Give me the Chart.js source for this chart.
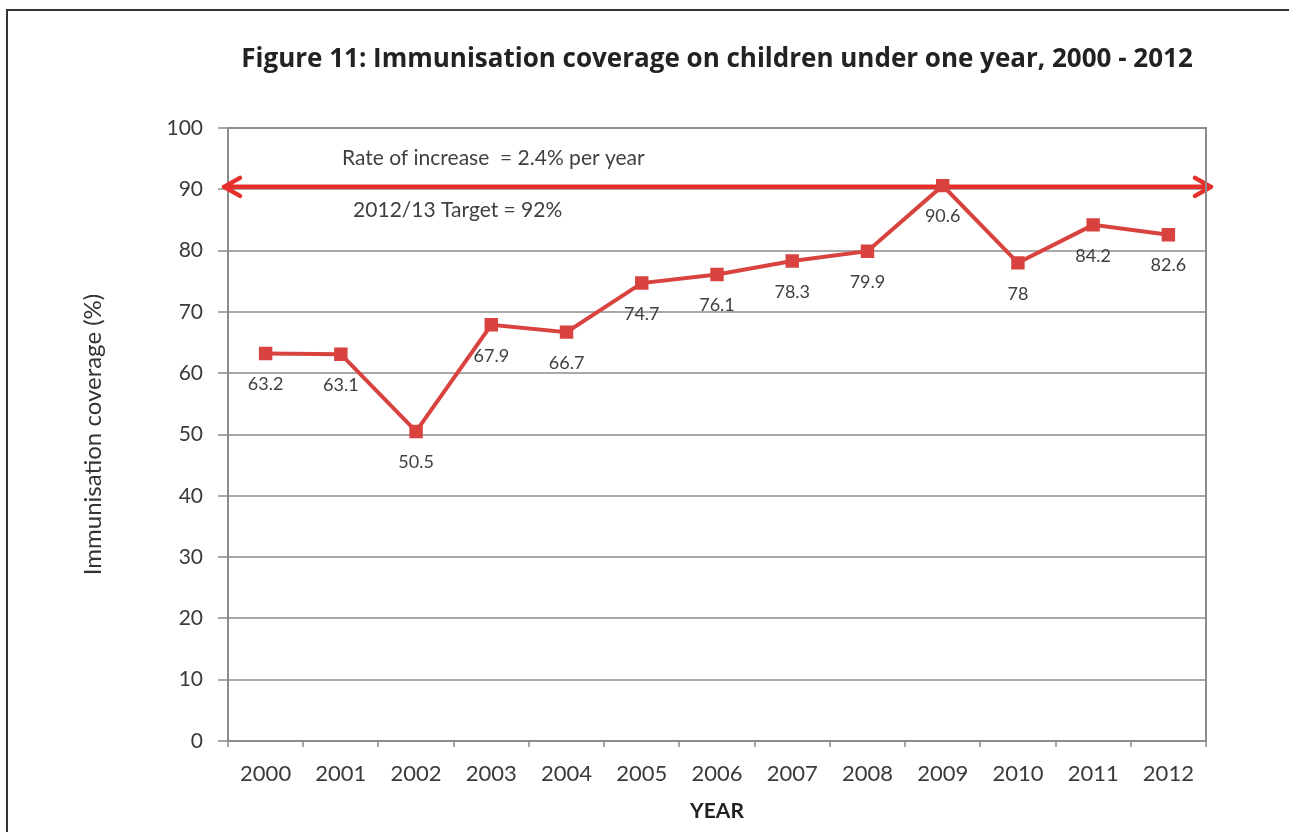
<!DOCTYPE html>
<html>
<head>
<meta charset="utf-8">
<script src="https://cdn.jsdelivr.net/npm/chart.js@4.4.0/dist/chart.umd.min.js"></script>
<style>
  html, body { margin: 0; padding: 0; background: #fff; }
  #wrap { position: relative; width: 1289px; height: 832px; overflow: hidden; }
  #frame { position: absolute; left: 6px; top: 9px; right: -10px; bottom: -10px;
           border-left: 2px solid #333; border-top: 2px solid #333; }
  canvas { position: absolute; left: 0; top: 0; }
</style>
</head>
<body>
<div id="wrap">
  <div id="frame"></div>
  <canvas id="chart" width="1289" height="832"></canvas>
</div>
<script>
  const years = ['2000', '2001', '2002', '2003', '2004', '2005', '2006', '2007', '2008', '2009', '2010', '2011', '2012'];
  const coverage = [63.2, 63.1, 50.5, 67.9, 66.7, 74.7, 76.1, 78.3, 79.9, 90.6, 78, 84.2, 82.6];
  const targetLevel = 90.4;
  const chartTitle = 'Figure 11: Immunisation coverage on children under one year, 2000 - 2012';
  const rateNote = 'Rate of increase  = 2.4% per year';
  const targetNote = '2012/13 Target = 92%';

  const FONT = 'Lato, "Open Sans", sans-serif';
  const lineRed = '#d9433f';
  const arrowRed = '#e5302e';
  const gridGray = '#a8a8a8';

  // title over the plot, arrow, value labels, notes and the plot frame
  const extras = {
    id: 'extras',
    beforeDatasetsDraw(chart) {
      const { ctx, chartArea: a, scales: { y } } = chart;
      const py = y.getPixelForValue(targetLevel);
      const x1 = a.left - 4, x2 = a.right + 5;
      ctx.save();
      ctx.strokeStyle = arrowRed;
      ctx.lineWidth = 4.5;
      ctx.lineCap = 'round';
      ctx.lineJoin = 'round';
      ctx.beginPath();
      ctx.moveTo(x1, py);
      ctx.lineTo(x2, py);
      ctx.moveTo(x1 + 16, py - 9);
      ctx.lineTo(x1, py);
      ctx.lineTo(x1 + 16, py + 9);
      ctx.moveTo(x2 - 16, py - 9);
      ctx.lineTo(x2, py);
      ctx.lineTo(x2 - 16, py + 9);
      ctx.stroke();
      ctx.restore();
    },
    afterDatasetsDraw(chart) {
      const { ctx, chartArea: a, scales: { x, y } } = chart;
      ctx.save();
      // plot frame top / right
      ctx.strokeStyle = '#8c8c8c';
      ctx.lineWidth = 2;
      ctx.beginPath();
      ctx.moveTo(a.left, a.top);
      ctx.lineTo(a.right, a.top);
      ctx.lineTo(a.right, a.bottom);
      ctx.stroke();

      ctx.textAlign = 'center';
      ctx.textBaseline = 'middle';

      ctx.fillStyle = '#222';
      ctx.font = 'bold 26px "Open Sans", sans-serif';
      ctx.fillText(chartTitle, (a.left + a.right) / 2, 60);

      ctx.fillStyle = '#404040';
      ctx.font = '18px ' + FONT;
      const meta = chart.getDatasetMeta(0);
      meta.data.forEach((pt, i) => {
        ctx.fillText(String(coverage[i]), pt.x, pt.y + 31);
      });

      ctx.font = '21px ' + FONT;
      ctx.fillText(rateNote, x.getPixelForValue(3) + 2, y.getPixelForValue(95.1));
      ctx.fillText(targetNote, x.getPixelForValue(2.5) + 4, y.getPixelForValue(86.6));
      ctx.restore();
    }
  };

  new Chart(document.getElementById('chart'), {
    type: 'line',
    data: {
      labels: years,
      datasets: [{
        data: coverage,
        borderColor: lineRed,
        backgroundColor: lineRed,
        borderWidth: 4,
        pointStyle: 'rect',
        pointRadius: 9.5,
        pointHoverRadius: 9.5,
        pointBorderWidth: 0,
        tension: 0
      }]
    },
    options: {
      responsive: false,
      animation: false,
      events: [],
      layout: { padding: { left: 0, right: 83, top: 128, bottom: 0 } },
      plugins: {
        legend: { display: false },
        tooltip: { enabled: false },
        title: { display: false }
      },
      scales: {
        x: {
          offset: true,
          grid: { offset: true, drawOnChartArea: false, drawTicks: true, tickLength: 6, color: gridGray, lineWidth: 2 },
          border: { display: true, color: '#8c8c8c', width: 2 },
          ticks: { color: '#3a3a3a', font: { family: FONT, size: 22 }, padding: 14, maxRotation: 0 },
          title: { display: true, text: 'YEAR', color: '#222', font: { family: FONT, size: 21, weight: 'bold' }, padding: { top: 0, bottom: 8 } },
          afterFit(scale) { scale.height = 91; }
        },
        y: {
          min: 0,
          max: 100,
          ticks: { stepSize: 10, color: '#3a3a3a', font: { family: FONT, size: 21 }, padding: 15 },
          grid: { color: gridGray, lineWidth: 2, tickLength: 10 },
          border: { display: true, color: '#8c8c8c', width: 2 },
          title: { display: true, text: 'Immunisation coverage (%)', color: '#333', font: { family: FONT, size: 24 }, padding: { top: 79, bottom: 0 } },
          afterFit(scale) { scale.width = 228; }
        }
      }
    },
    plugins: [extras]
  });
</script>
</body>
</html>
